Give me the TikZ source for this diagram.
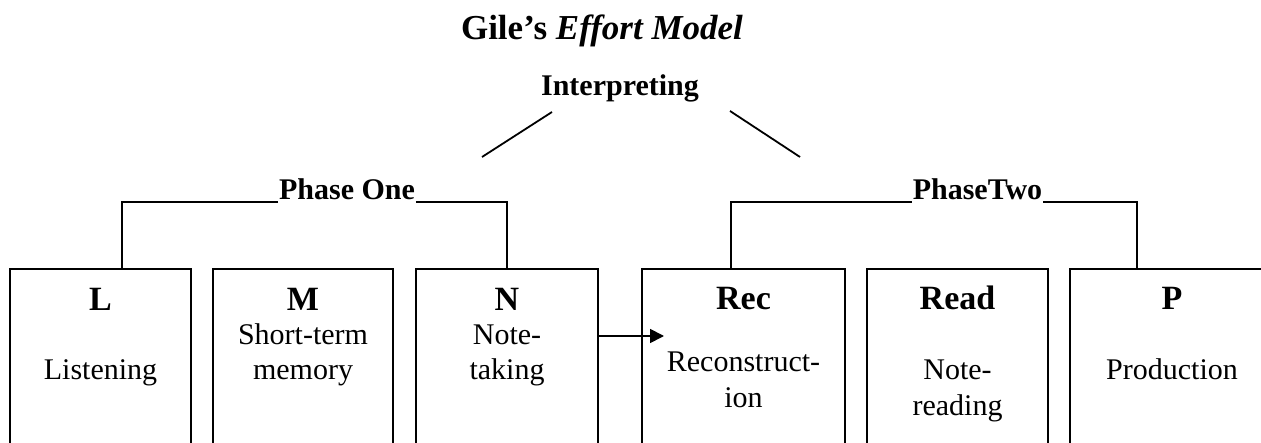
\documentclass[tikz,border=0pt]{standalone}
\usepackage{fontspec}
\setmainfont{Liberation Serif}
\usetikzlibrary{arrows.meta}
\begin{document}
\begin{tikzpicture}[x=1pt, y=-1pt, line width=1.8pt,
  effbox/.style={draw, rectangle, anchor=north, minimum height=260pt, inner sep=0pt},
  head/.style={anchor=base, inner sep=0pt, font=\fontsize{34}{40}\selectfont\bfseries},
  body/.style={anchor=base, inner sep=0pt, font=\fontsize{30}{35}\selectfont},
  phase/.style={anchor=base, inner sep=0pt, font=\fontsize{30}{35}\selectfont\bfseries}]
  \clip (0,0) rectangle (1261,443);

  % title and root
  \node[anchor=base, inner sep=0pt, font=\fontsize{35}{40}\selectfont\bfseries] (title) at (602,40) {Gile’s \textit{Effort Model}};
  \node[phase] (interp) at (620,96) {Interpreting};
  \coordinate (ila) at (552,112);
  \coordinate (ilb) at (482,157);
  \coordinate (ira) at (730,111);
  \coordinate (irb) at (800,157);
  \draw (ila) -- (ilb);
  \draw (ira) -- (irb);

  % effort boxes (open at the bottom edge)
  \node[effbox, minimum width=181pt] (L)    at (100.5,268) {};
  \node[effbox, minimum width=180pt] (M)    at (303,268) {};
  \node[effbox, minimum width=182pt] (N)    at (507,268) {};
  \node[effbox, minimum width=203pt] (Rec)  at (743.5,268) {};
  \node[effbox, minimum width=181pt] (Read) at (957.5,268) {};
  \node[effbox, minimum width=204pt] (P)    at (1172,268) {};

  % box texts
  \node[head] (Lh) at (100.5,311) {L};
  \node[body] (Lb) at (100.5,380) {Listening};

  \node[head] (Mh) at (303,311) {M};
  \node[body] (Mb1) at (303,345) {Short-term};
  \node[body] (Mb2) at (303,380) {memory};

  \node[head] (Nh) at (507,311) {N};
  \node[body] (Nb1) at (507,345) {Note-};
  \node[body] (Nb2) at (507,380) {taking};

  \node[head] (Rech) at (743.5,310) {Rec};
  \node[body] (Recb1) at (743.5,372) {Reconstruct-};
  \node[body] (Recb2) at (743.5,407) {ion};

  \node[head] (Readh) at (957.5,310) {Read};
  \node[body] (Readb1) at (957.5,380) {Note-};
  \node[body] (Readb2) at (957.5,415) {reading};

  \node[head] (Ph) at (1172,310) {P};
  \node[body] (Pb) at (1172,380) {Production};

  % phase groupings
  \node[phase] (p1) at (347,200) {Phase One};
  \node[phase] (p2) at (977.5,200) {PhaseTwo};
  \draw (p1.west |- 0,202) -| (L.north -| 122,0);
  \draw (p1.east |- 0,202) -| (N.north);
  \draw (p2.west |- 0,202) -| (Rec.north -| 731,0);
  \draw (p2.east |- 0,202) -| (P.north -| 1137,0);

  % flow from note-taking to reconstruction
  \coordinate (arrtip) at (664,336);
  \draw[-{Triangle[length=14pt,width=14pt]}] (N.east |- arrtip) -- (arrtip);
\end{tikzpicture}
\end{document}
